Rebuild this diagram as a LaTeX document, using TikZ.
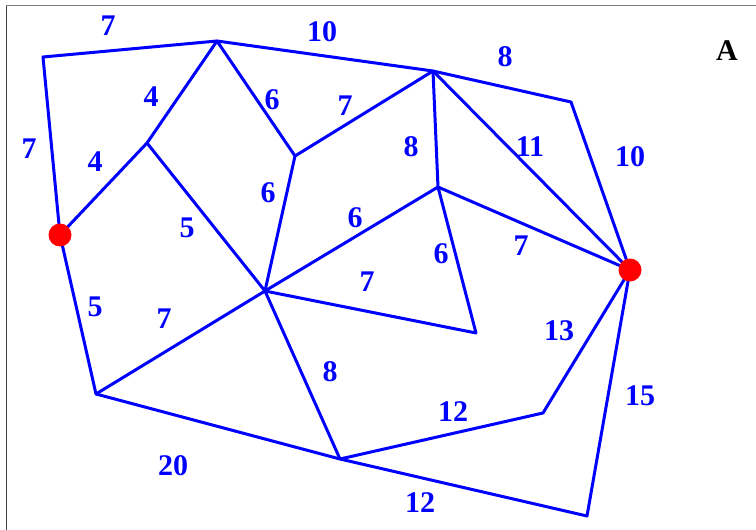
\documentclass[tikz,border=0pt]{standalone}
\usepackage{fontspec}
\setmainfont{Liberation Serif}
\usepackage{tikz}
\usetikzlibrary{positioning}
\definecolor{netblue}{RGB}{0,0,255}
\definecolor{netred}{RGB}{255,0,0}

\begin{document}
\begin{tikzpicture}[x=0.5pt, y=-0.5pt,
      edge/.style={netblue, line width=1.5pt, line join=round},
      hub/.style={circle, fill=netred, inner sep=0pt, minimum size=11.5pt},
      lbl/.style={netblue, font=\fontsize{15}{15}\selectfont\bfseries, inner sep=0pt},
      frame/.style={line width=0.5pt}]
    \useasboundingbox (0,0) rectangle (756,530);
    \draw[frame, gray] (6,5.5) -- (756,5.5);
    \draw[frame, black!75] (6,5.5) -- (6,530);
    % vertices
    \coordinate (p1) at (43,57);   \coordinate (p2) at (217,41);
    \coordinate (p3) at (433,71);  \coordinate (p4) at (571,102);
    \coordinate (p5) at (630,270); \coordinate (p6) at (587,516);
    \coordinate (p7) at (340,459); \coordinate (p8) at (96,394);
    \coordinate (p9) at (60,235);  \coordinate (p10) at (147,143);
    \coordinate (p11) at (265,291); \coordinate (p12) at (295,156);
    \coordinate (p13) at (438,187); \coordinate (p14) at (476,333);
    \coordinate (p15) at (543,413);
    % edges
    \draw[edge] (p9) -- (p1) -- (p2) -- (p3) -- (p4) -- (p5);
    \draw[edge] (p9) -- (p10) -- (p2) -- (p12) -- (p3);
    \draw[edge] (p10) -- (p11) -- (p12);
    \draw[edge] (p3) -- (p13) -- (p11);
    \draw[edge] (p3) -- (p5) -- (p13) -- (p14) -- (p11);
    \draw[edge] (p9) -- (p8) -- (p11) -- (p7);
    \draw[edge] (p8) -- (p7) -- (p15) -- (p5);
    \draw[edge] (p7) -- (p6) -- (p5);
    \node[hub] (s) at (p9) {};
    \node[hub] (t) at (p5) {};
    % weights
    \node[lbl] (w1) at (108,26) {7};   \node[lbl] (w2) at (322,32) {10};
    \node[lbl] (w3) at (505,57) {8};   \node[lbl] (w4) at (630,157) {10};
    \node[lbl] (w5) at (29,149) {7};   \node[lbl] (w6) at (95,162) {4};
    \node[lbl] (w7) at (151,97) {4};   \node[lbl] (w8) at (272,100) {6};
    \node[lbl] (w9) at (345,106) {7};  \node[lbl] (w10) at (187,228) {5};
    \node[lbl] (w11) at (268,193) {6}; \node[lbl] (w12) at (411,147) {8};
    \node[lbl] (w13) at (530,147) {11}; \node[lbl] (w14) at (355,218) {6};
    \node[lbl] (w15) at (521,246) {7}; \node[lbl] (w16) at (441,254) {6};
    \node[lbl] (w17) at (367,282) {7}; \node[lbl] (w18) at (95,307) {5};
    \node[lbl] (w19) at (164,319) {7}; \node[lbl] (w20) at (330,372) {8};
    \node[lbl] (w21) at (173,466) {20}; \node[lbl] (w22) at (453,412) {12};
    \node[lbl] (w23) at (559,331) {13}; \node[lbl] (w24) at (420,503) {12};
    \node[lbl] (w25) at (640,396) {15};
    \node[lbl, black] (tag) at (727,51) {A};
  \end{tikzpicture}
\end{document}
